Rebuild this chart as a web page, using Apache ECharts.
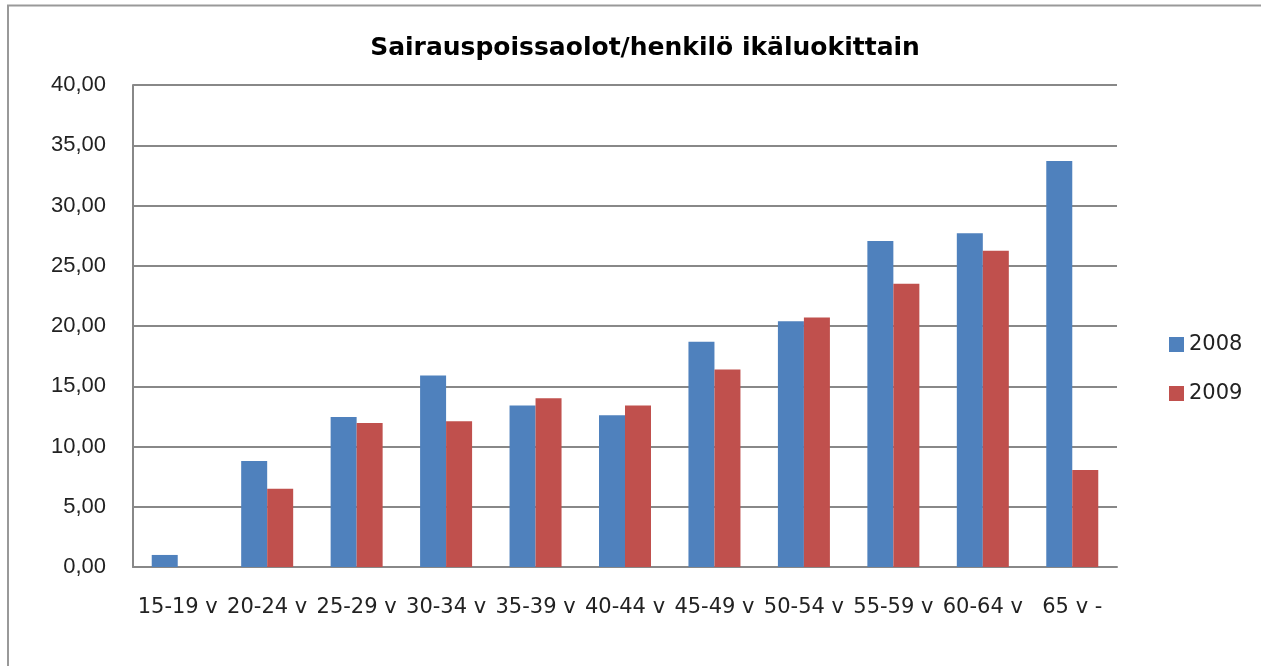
<!DOCTYPE html>
<html><head><meta charset="utf-8">
<script src="https://cdn.jsdelivr.net/npm/echarts@6/dist/echarts.min.js"></script>
<style>html,body{margin:0;padding:0;background:#fff}#c{width:1261px;height:666px}</style>
</head><body><div id="c"></div>
<script>
const categories = ['15-19 v','20-24 v','25-29 v','30-34 v','35-39 v','40-44 v','45-49 v','50-54 v','55-59 v','60-64 v','65 v -'];
const values2008 = [1.0, 8.8, 12.45, 15.9, 13.4, 12.6, 18.7, 20.4, 27.05, 27.7, 33.7];
const values2009 = [0, 6.5, 11.95, 12.1, 14.0, 13.4, 16.4, 20.7, 23.5, 26.25, 8.05];
const yTicks = {min: 0, max: 40, interval: 5};

const chart = echarts.init(document.getElementById('c'), null, {renderer: 'canvas'});
chart.setOption({
  animation: false,
  backgroundColor: '#fff',
  title: {
    text: 'Sairauspoissaolot/henkilö ikäluokittain',
    left: 640, top: 31, textAlign: 'center',
    textStyle: {fontFamily: 'DejaVu Sans', fontWeight: 'bold', fontSize: 25, color: '#000'}
  },
  graphic: [
    {type: 'polyline', shape: {points: [[8, 670], [8, 5.5], [1265, 5.5]]}, style: {stroke: '#999', lineWidth: 2, fill: null}, silent: true}
  ],
  legend: {
    orient: 'vertical', left: 1164, top: 329, itemGap: 28,
    itemWidth: 15, itemHeight: 15, icon: 'rect',
    textStyle: {fontFamily: 'DejaVu Sans', fontSize: 21, color: '#222'},
    data: ['2008', '2009']
  },
  grid: {left: 133, right: 144, top: 85, bottom: 99, containLabel: false},
  xAxis: {
    type: 'category', data: categories,
    axisLine: {lineStyle: {color: '#888', width: 2}},
    axisTick: {show: false},
    axisLabel: {interval: 0, margin: 30, fontFamily: 'DejaVu Sans', fontSize: 21, color: '#222'}
  },
  yAxis: {
    type: 'value', min: yTicks.min, max: yTicks.max, interval: yTicks.interval,
    axisLine: {show: true, lineStyle: {color: '#888', width: 2}},
    axisTick: {show: false},
    splitLine: {lineStyle: {color: '#888', width: 2}},
    axisLabel: {margin: 27, fontFamily: 'Liberation Sans', fontSize: 22, color: '#222',
      formatter: v => v.toFixed(2).replace('.', ',')}
  },
  series: [
    {name: '2008', type: 'bar', data: values2008, barWidth: 26, barGap: '0%',
      itemStyle: {color: '#4f81bd'}},
    {name: '2009', type: 'bar', data: values2009, barWidth: 26, barGap: '0%',
      itemStyle: {color: '#c0504d'}}
  ]
});
</script></body></html>
